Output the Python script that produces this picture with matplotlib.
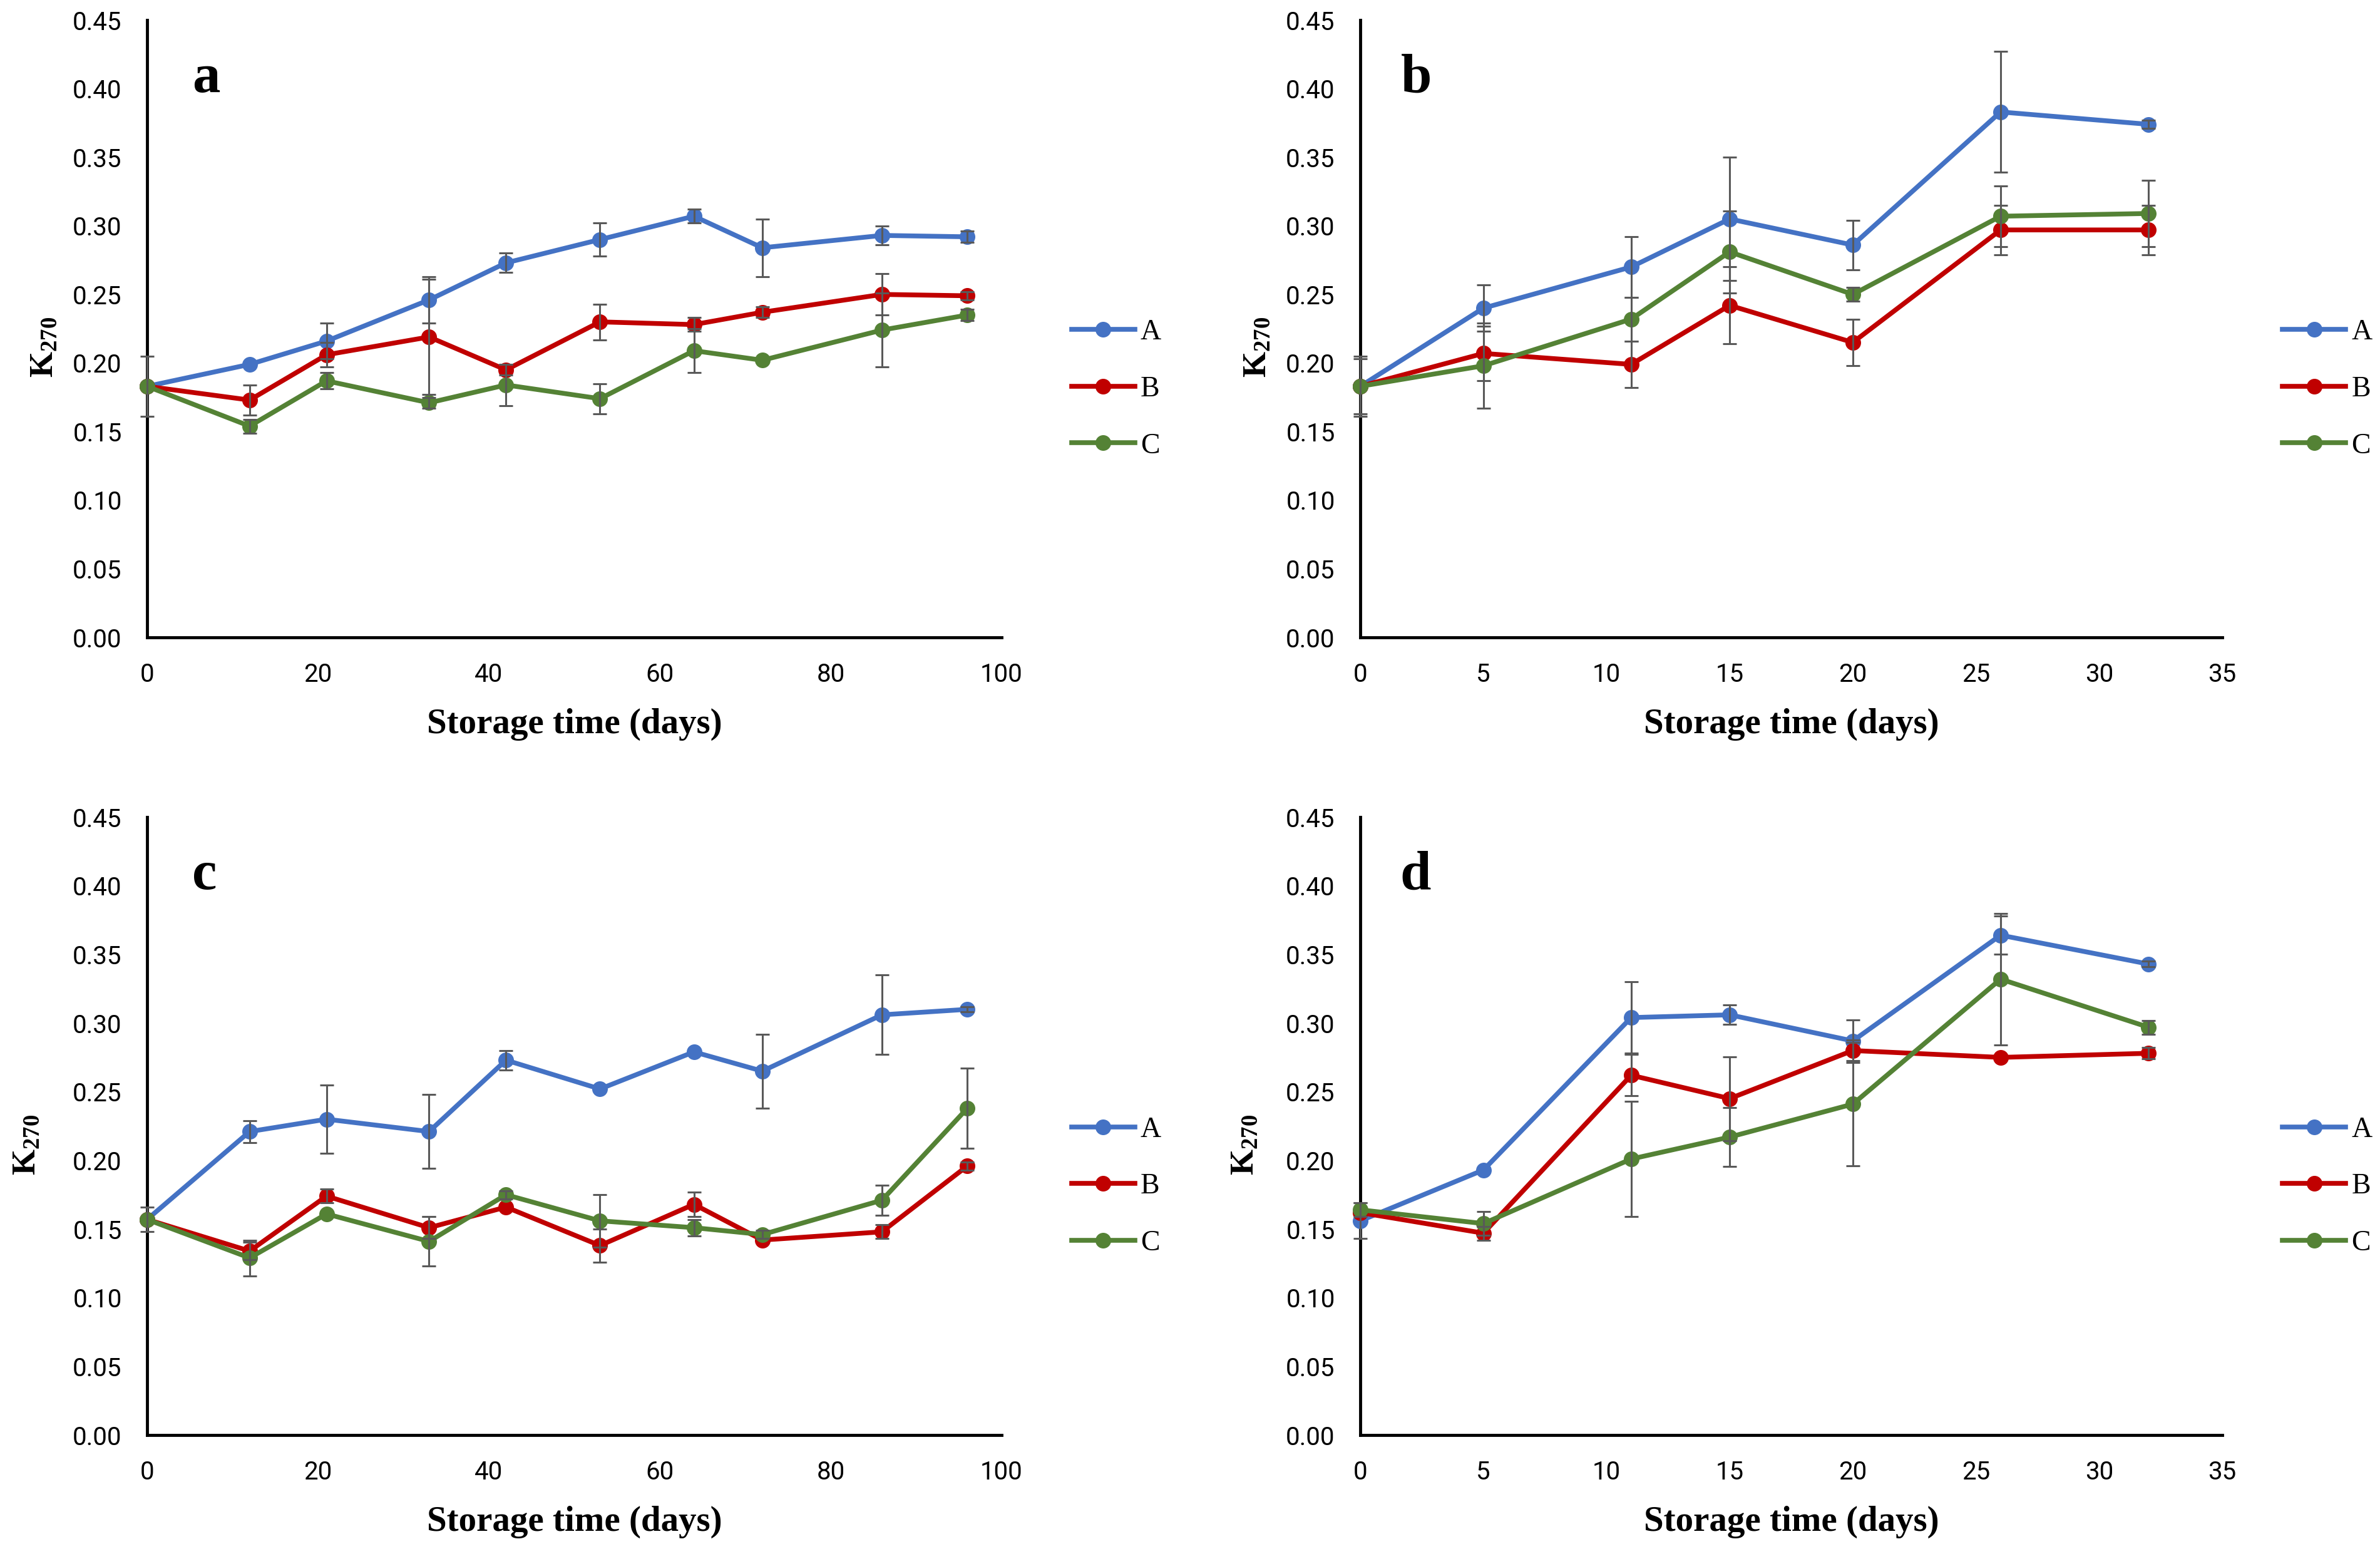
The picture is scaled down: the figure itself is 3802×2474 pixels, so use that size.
import matplotlib
matplotlib.use("Agg")
import matplotlib.pyplot as plt
import numpy as np
from matplotlib import font_manager

# ---------------- data ----------------
days_long = [0, 12, 21, 33, 42, 53, 64, 72, 86, 96]
days_short = [0, 5, 11, 15, 20, 26, 32]
series_names = ["A", "B", "C"]

a_A = [0.183, 0.199, 0.216, 0.246, 0.273, 0.290, 0.307, 0.284, 0.293, 0.292]
a_A_err = [0, 0, 0.013, 0.017, 0.007, 0.012, 0.005, 0.021, 0.007, 0.004]
a_B = [0.183, 0.173, 0.206, 0.219, 0.195, 0.230, 0.228, 0.237, 0.250, 0.249]
a_B_err = [0, 0.011, 0.009, 0.042, 0.004, 0.013, 0.005, 0.004, 0.015, 0.003]
a_C = [0.183, 0.154, 0.187, 0.171, 0.184, 0.174, 0.209, 0.202, 0.224, 0.235]
a_C_err = [0.022, 0.005, 0.006, 0.004, 0.015, 0.011, 0.016, 0, 0.027, 0.004]

b_A = [0.183, 0.240, 0.270, 0.305, 0.286, 0.383, 0.374]
b_A_err = [0, 0.017, 0.022, 0.045, 0.018, 0.044, 0.003]
b_B = [0.183, 0.207, 0.199, 0.242, 0.215, 0.297, 0.297]
b_B_err = [0.020, 0.020, 0.017, 0.028, 0.017, 0.018, 0.018]
b_C = [0.183, 0.198, 0.232, 0.281, 0.250, 0.307, 0.309]
b_C_err = [0.022, 0.031, 0.016, 0.030, 0.005, 0.022, 0.024]

c_A = [0.157, 0.221, 0.230, 0.221, 0.273, 0.252, 0.279, 0.265, 0.306, 0.310]
c_A_err = [0.009, 0.008, 0.025, 0.027, 0.007, 0, 0, 0.027, 0.029, 0.002]
c_B = [0.157, 0.134, 0.174, 0.151, 0.166, 0.138, 0.168, 0.142, 0.148, 0.196]
c_B_err = [0, 0.0065, 0.005, 0.008, 0, 0.012, 0.009, 0, 0.005, 0.003]
c_C = [0.157, 0.129, 0.161, 0.141, 0.175, 0.156, 0.151, 0.146, 0.171, 0.238]
c_C_err = [0, 0.013, 0, 0.018, 0.003, 0.019, 0.006, 0.003, 0.011, 0.029]

d_A = [0.156, 0.193, 0.304, 0.306, 0.287, 0.364, 0.343]
d_A_err = [0.013, 0, 0.026, 0.007, 0.0155, 0.014, 0.002]
d_B = [0.162, 0.147, 0.262, 0.245, 0.280, 0.275, 0.278]
d_B_err = [0, 0.005, 0.015, 0.0305, 0.0075, 0, 0.004]
d_C = [0.164, 0.154, 0.201, 0.217, 0.241, 0.332, 0.297]
d_C_err = [0.005, 0.0086, 0.042, 0.0215, 0.045, 0.048, 0.005]

y_ticks = [0.00, 0.05, 0.10, 0.15, 0.20, 0.25, 0.30, 0.35, 0.40, 0.45]
x_ticks_long = [0, 20, 40, 60, 80, 100]
x_ticks_short = [0, 5, 10, 15, 20, 25, 30, 35]
panel_letters = ["a", "b", "c", "d"]
x_title = "Storage time (days)"

colors = ["#4472C4", "#C00000", "#548235"]
err_color = "#595959"

# ---------------- fonts ----------------
avail = {f.name for f in font_manager.fontManager.ttflist}
tick_font = ["Liberation Sans Narrow", "DejaVu Sans"] if "Liberation Sans Narrow" in avail else ["Roboto", "DejaVu Sans"]
serif_font = ["Liberation Serif", "DejaVu Serif"]

plt.rcParams["mathtext.fontset"] = "custom"
plt.rcParams["mathtext.rm"] = "Liberation Serif"
plt.rcParams["mathtext.bf"] = "Liberation Serif:bold"

W, H = 3802, 2474
fig = plt.figure(figsize=(W / 100, H / 100), dpi=100)

panels = [
    dict(x=days_long, ser=[(a_A, a_A_err), (a_B, a_B_err), (a_C, a_C_err)], xt=x_ticks_long, xlim=100,
         rect=[235, 32, 1600, 1018], ylab=-0.122, leg=1.082, lx=0.069, ly=0.905),
    dict(x=days_short, ser=[(b_A, b_A_err), (b_B, b_B_err), (b_C, b_C_err)], xt=x_ticks_short, xlim=35,
         rect=[2173, 32, 3550, 1018], ylab=-0.121, leg=1.07, lx=0.065, ly=0.905),
    dict(x=days_long, ser=[(c_A, c_A_err), (c_B, c_B_err), (c_C, c_C_err)], xt=x_ticks_long, xlim=100,
         rect=[235, 1305, 1600, 2292], ylab=-0.142, leg=1.082, lx=0.067, ly=0.905),
    dict(x=days_short, ser=[(d_A, d_A_err), (d_B, d_B_err), (d_C, d_C_err)], xt=x_ticks_short, xlim=35,
         rect=[2173, 1305, 3550, 2292], ylab=-0.135, leg=1.07, lx=0.064, ly=0.905),
]

for p, letter in zip(panels, panel_letters):
    l, t, r, b = p["rect"]
    ax = fig.add_axes([l / W, 1 - b / H, (r - l) / W, (b - t) / H])
    x = np.array(p["x"], dtype=float)
    handles = []
    for (vals, errs), col, name in zip(p["ser"], colors, series_names):
        h, = ax.plot(x, vals, color=col, lw=5.5, marker="o", markersize=17,
                     clip_on=False, zorder=3, label=name)
        handles.append(h)
        errs = np.array(errs, dtype=float)
        m = errs > 0
        ax.errorbar(x[m], np.array(vals)[m], yerr=errs[m], fmt="none", ecolor=err_color,
                    elinewidth=2.2, capsize=8, capthick=2.2, zorder=5, clip_on=False)
    ax.set_xlim(0, p["xlim"])
    ax.set_ylim(0, 0.45)
    ax.set_xticks(p["xt"])
    ax.set_yticks(y_ticks)
    ax.set_yticklabels([f"{v:.2f}" for v in y_ticks])
    ax.tick_params(length=0, pad=29, labelsize=29)
    for lab in ax.get_xticklabels() + ax.get_yticklabels():
        lab.set_family(tick_font)
    for s in ["top", "right"]:
        ax.spines[s].set_visible(False)
    for s in ["left", "bottom"]:
        ax.spines[s].set_linewidth(3.5)
        ax.spines[s].set_color("black")
    ax.set_xlabel(x_title, family=serif_font, fontweight="bold", fontsize=41)
    ax.xaxis.set_label_coords(0.5, -0.141)
    ax.xaxis.label.set_va("center")
    ax.set_ylabel(r"$\mathbf{K_{270}}$", fontsize=38)
    ax.yaxis.set_label_coords(p["ylab"], 0.47)
    ax.yaxis.label.set_va("center")
    ax.text(p["lx"], p["ly"], letter, transform=ax.transAxes,
            family=serif_font, fontweight="bold", fontsize=64, ha="center", va="center")
    ax.legend(handles=handles, loc="center left", bbox_to_anchor=(p["leg"], 0.402),
              frameon=False, borderpad=0, borderaxespad=0, handlelength=2.2,
              handletextpad=0.2, labelspacing=1.05, prop=dict(family=serif_font, size=33))

fig.savefig("out.png", dpi=100)
